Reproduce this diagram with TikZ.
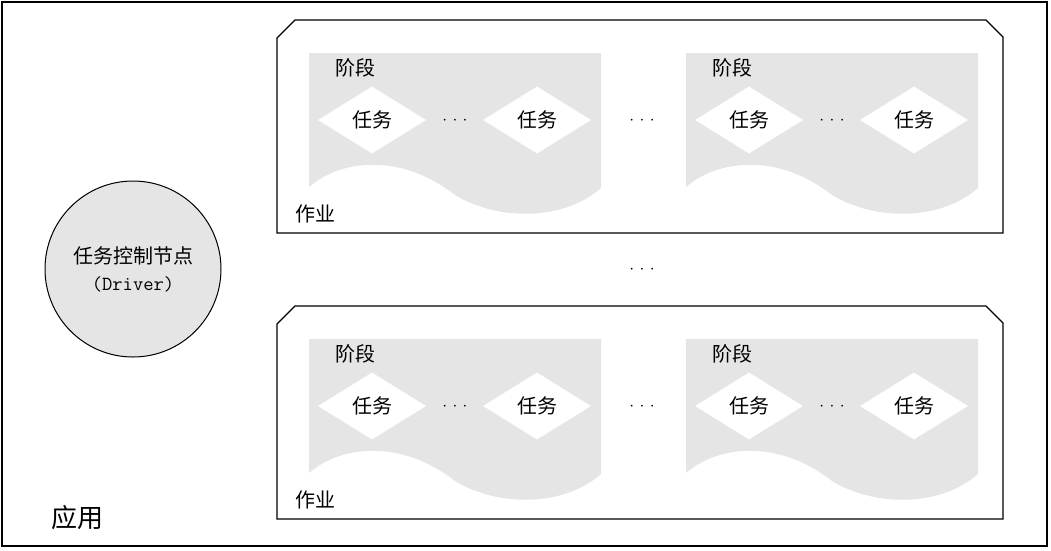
\documentclass[tikz,border=0pt]{standalone}
\usepackage{fontspec}
\newfontfamily\cjk{Noto Sans CJK SC}
\usetikzlibrary{shapes.geometric}

\newcommand{\gapdots}{$\cdotp\hspace{2.5pt}\cdotp\hspace{2.5pt}\cdotp$}

\tikzset{
  lbl/.style={font=\cjk\fontsize{20}{24}\selectfont, inner sep=0pt},
  tasknode/.style={diamond, fill=white, inner sep=0pt, minimum width=108pt,
    minimum height=67pt, font=\cjk\fontsize{20}{24}\selectfont},
  stagefill/.style={fill=black!10},
  jobframe/.style={draw=black, line width=1.3pt},
  dotsgap/.style={font=\fontsize{17}{18}\selectfont, inner sep=0pt},
}

\begin{document}
\begin{tikzpicture}[x=1pt, y=-1pt]
\useasboundingbox (0,0) rectangle (1051,550);

% Application frame
\draw[jobframe] (2,2) rectangle (1047,546);
\node[lbl, font=\cjk\fontsize{26}{30}\selectfont] (app) at (77,518) {应用};

% Driver
\node[circle, draw, line width=1pt, fill=black!10, minimum size=176pt, inner sep=0pt,
  align=center, font=\cjk\fontsize{20}{27}\selectfont] (driver) at (133,269)
  {任务控制节点\\{\ttfamily (Driver)}};

% Jobs, each with two stages
\foreach \dy\jn in {0/top, 286/bottom} {
\begin{scope}[shift={(0,\dy)}]
\draw[jobframe] (277,38) -- (295,20) -- (986,20) -- (1003,37) -- (1003,233)
  -- (277,233) -- cycle;
\node[lbl] (job-\jn) at (315,214) {作业};
\foreach \dx\sn in {0/a, 377/b} {
\begin{scope}[shift={(\dx,0)}]
\fill[stagefill] (309,53) -- (601,53) -- (601,188)
  .. controls (565,220) and (500,222) .. (455,195)
  .. controls (400,152) and (340,160) .. (309,187) -- cycle;
\node[lbl] (stage-\jn-\sn) at (355,68) {阶段};
\node[tasknode] (task-\jn-\sn-1) at (372,120) {任务};
\node[tasknode] (task-\jn-\sn-2) at (537,120) {任务};
\node[dotsgap] (dots-\jn-\sn) at (455,121) {\gapdots};
\end{scope}
}
% Gap between stages
\node[dotsgap] (stagedots-\jn) at (642,121) {\gapdots};
\end{scope}
}

% Gap between jobs
\node[dotsgap] (jobdots) at (642,270) {\gapdots};

\end{tikzpicture}
\end{document}
